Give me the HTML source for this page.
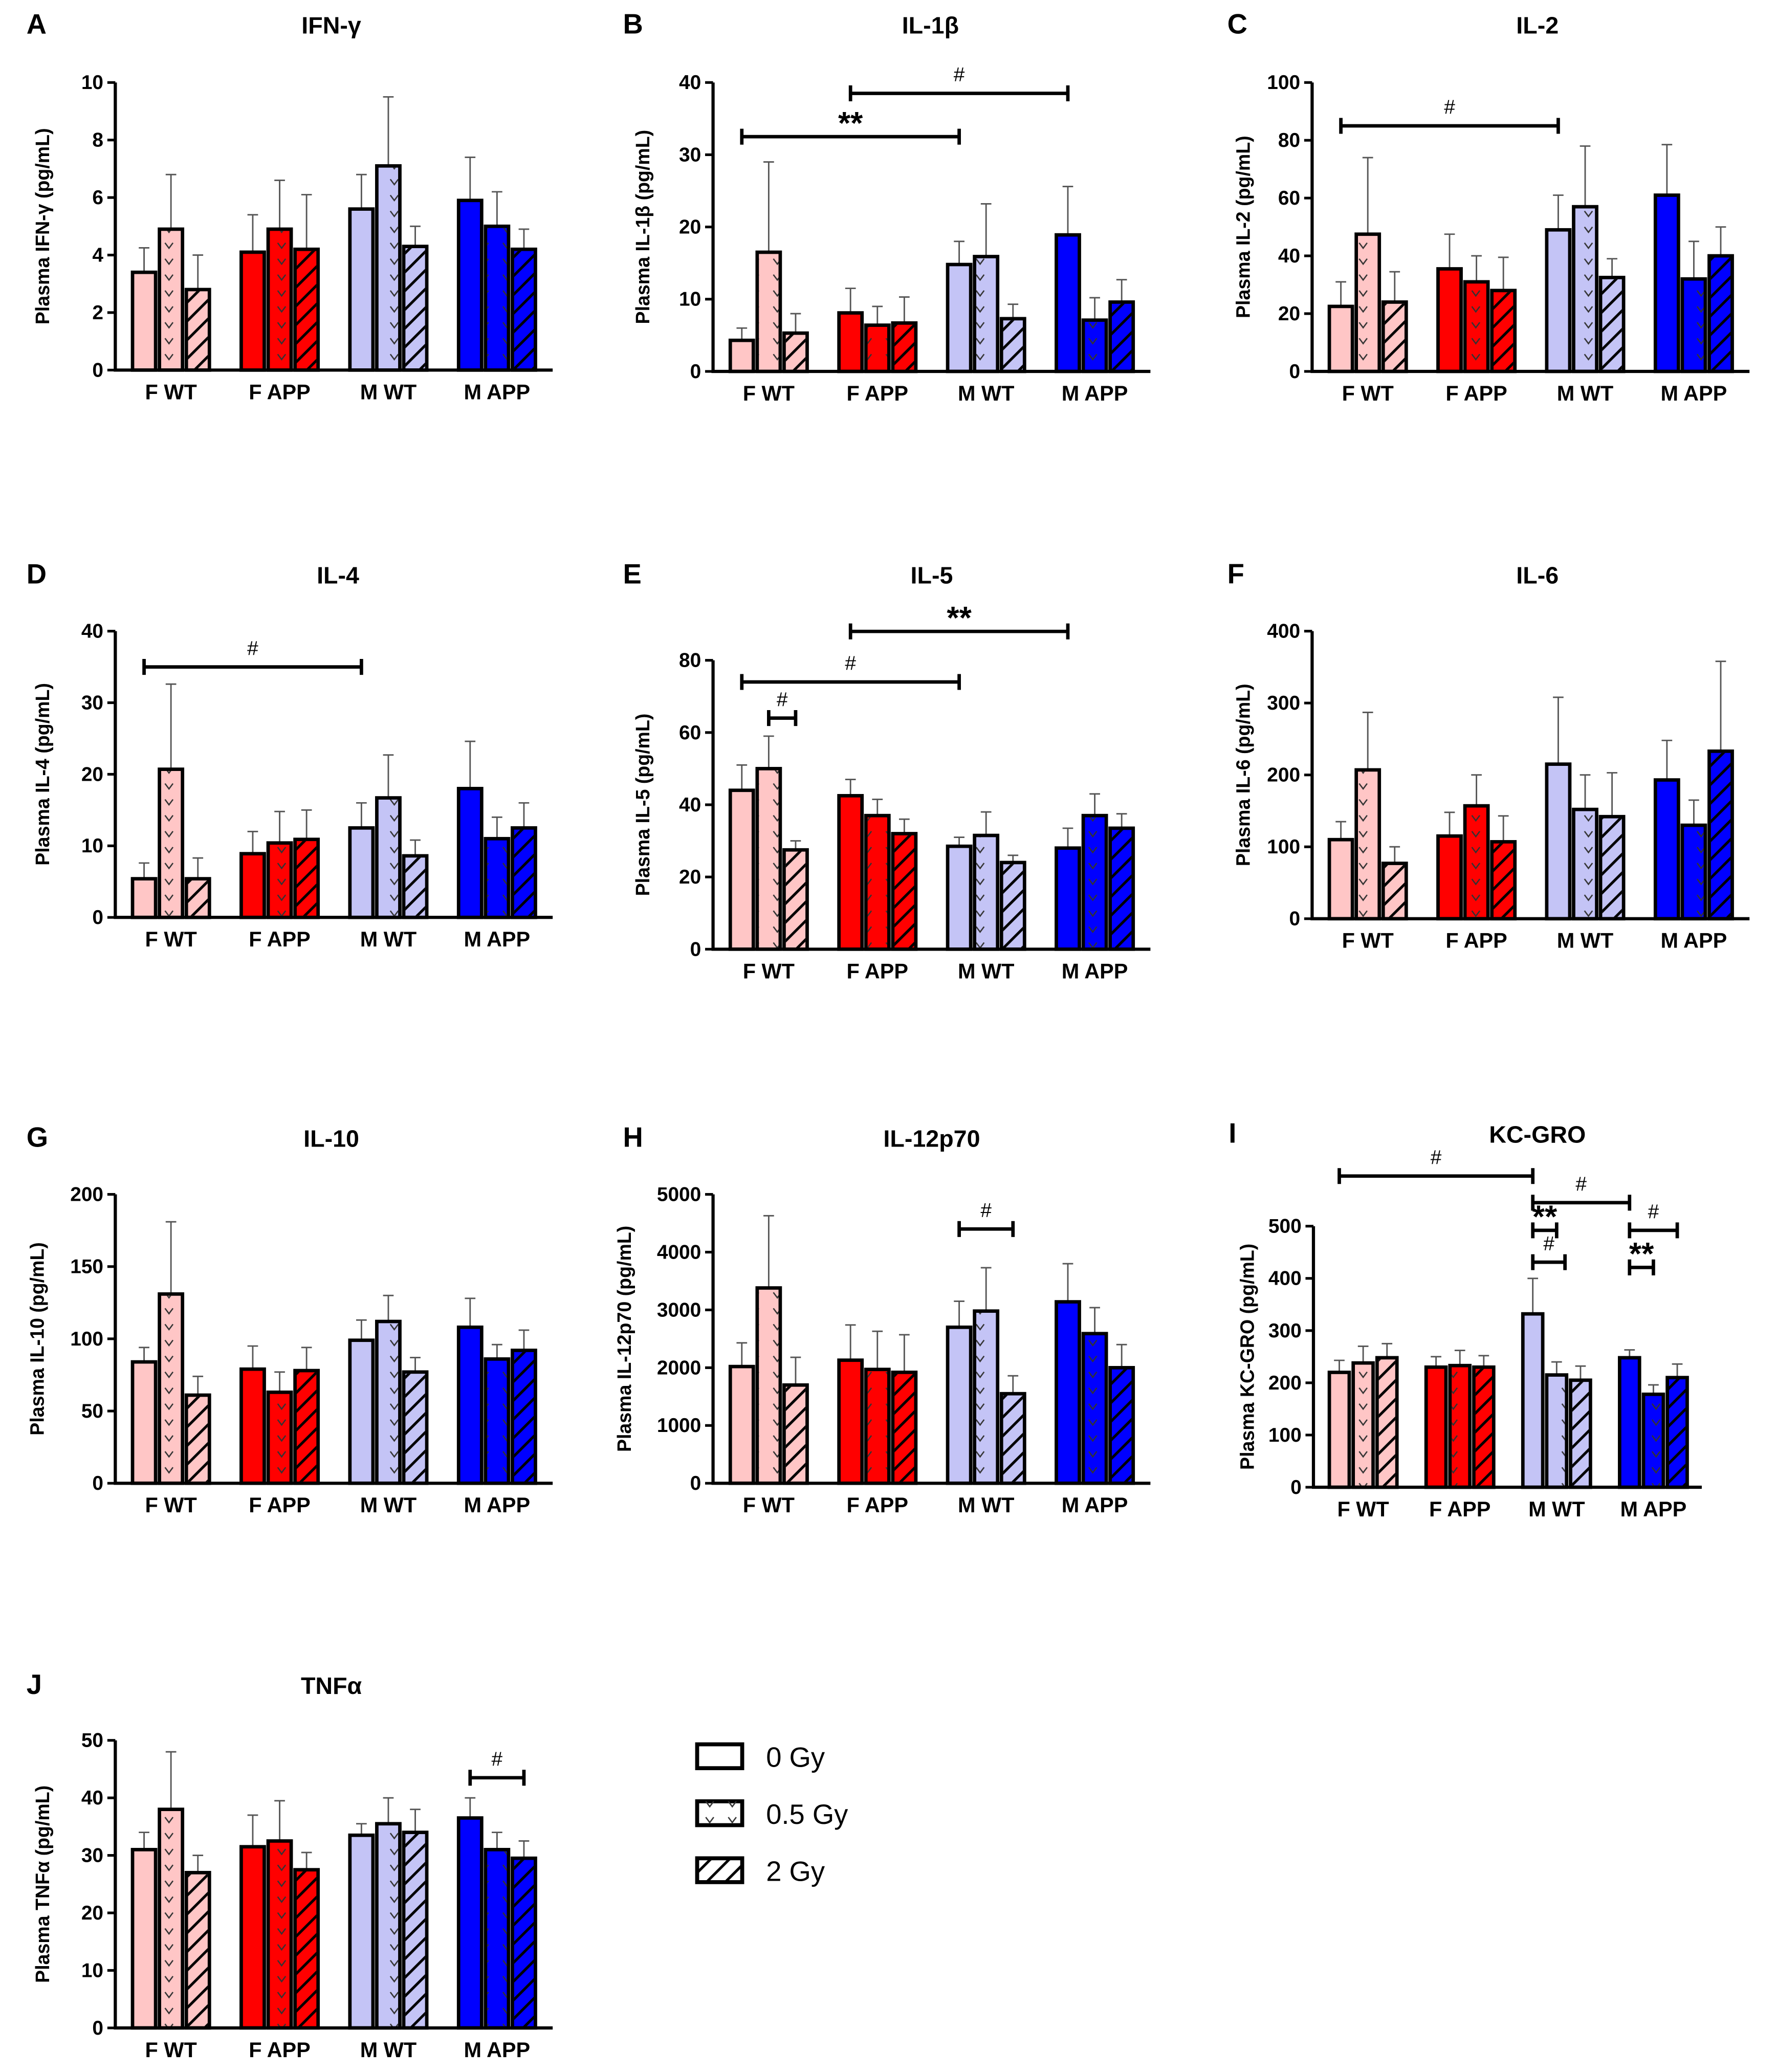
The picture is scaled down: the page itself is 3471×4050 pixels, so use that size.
<!DOCTYPE html>
<html><head><meta charset="utf-8"><style>
html,body{margin:0;padding:0;background:#fff;}
svg{display:block;}
text{font-family:"Liberation Sans",Arial,sans-serif;}
</style></head><body>
<svg id="fig" xmlns="http://www.w3.org/2000/svg" width="3471" height="4050" viewBox="0 0 1340 1563">
<defs>
<pattern id="hatch" patternUnits="userSpaceOnUse" width="10" height="10" patternTransform="rotate(45)">
  <line x1="0" y1="0" x2="0" y2="10" stroke="#000" stroke-width="4"/>
</pattern>
<pattern id="vee" patternUnits="userSpaceOnUse" width="17" height="12">
  <path d="M5.5 3 L8.5 7 L11.5 3" fill="none" stroke="#333" stroke-width="1"/>
</pattern>
</defs>
<g id="plots"></g>
<g>
  <rect x="526" y="1316" width="34" height="18" fill="#fff" stroke="#000" stroke-width="3"/>
  <text x="578" y="1333" font-size="21">0 Gy</text>
  <rect x="526" y="1359" width="34" height="18" fill="#fff" stroke="#000" stroke-width="3"/>
  <rect x="526" y="1359" width="34" height="18" fill="url(#vee)"/>
  <text x="578" y="1376" font-size="21">0.5 Gy</text>
  <rect x="526" y="1402" width="34" height="18" fill="#fff" stroke="#000" stroke-width="3"/>
  <rect x="526" y="1402" width="34" height="18" fill="url(#hatch)"/>
  <text x="578" y="1419" font-size="21">2 Gy</text>
</g>
</svg>
<script>
const categories = ["F WT","F APP","M WT","M APP"];
const doses = ["0 Gy","0.5 Gy","2 Gy"];
const ifnVals = [3.4,4.9,2.8, 4.1,4.9,4.2, 5.6,7.1,4.3, 5.9,5.0,4.2];
const ifnErr  = [4.25,6.8,4.0, 5.4,6.6,6.1, 6.8,9.5,5.0, 7.4,6.2,4.9];
const il1Vals = [4.3,16.5,5.3, 8.1,6.4,6.7, 14.8,15.9,7.3, 18.9,7.1,9.6];
const il1Err  = [6,29,8, 11.5,9,10.3, 18,23.2,9.3, 25.6,10.2,12.7];
const il2Vals = [22.5,47.5,24, 35.5,31,28, 49,57,32.5, 61,32,40];
const il2Err  = [31,74,34.5, 47.5,40,39.5, 61,78,39, 78.5,45,50];
const il4Vals = [5.4,20.7,5.4, 8.9,10.4,10.9, 12.5,16.7,8.6, 18,11,12.5];
const il4Err  = [7.6,32.6,8.3, 12,14.8,15, 16,22.7,10.8, 24.6,14,16];
const il5Vals = [44,50,27.5, 42.5,37,32, 28.5,31.5,24, 28,37,33.5];
const il5Err  = [51,59,30, 47,41.5,36, 31,38,26, 33.5,43,37.5];
const il6Vals = [110,207,77, 115,157,107, 215,152,142, 193,130,233];
const il6Err  = [135,287,100, 148,200,143, 308,200,203, 248,165,358];
const il10Vals = [84,131,61, 79,63,78, 99,112,77, 108,86,92];
const il10Err  = [94,181,74, 95,77,94, 113,130,87, 128,96,106];
const il12Vals = [2020,3380,1700, 2130,1970,1920, 2700,2980,1550, 3140,2590,2000];
const il12Err  = [2430,4630,2180, 2740,2630,2570, 3150,3730,1860, 3800,3040,2400];
const kcVals = [220,238,248, 230,233,230, 332,215,205, 248,178,210];
const kcErr  = [243,270,275, 250,262,252, 400,240,232, 263,196,236];
const tnfVals = [31,38,27, 31.5,32.5,27.5, 33.5,35.5,34, 36.5,31,29.5];
const tnfErr  = [34,48,30, 37,39.5,30.5, 35.5,40,38, 40,34,32.5];
const ifnTicks=[0,2,4,6,8,10], il1Ticks=[0,10,20,30,40], il2Ticks=[0,20,40,60,80,100],
      il4Ticks=[0,10,20,30,40], il5Ticks=[0,20,40,60,80], il6Ticks=[0,100,200,300,400],
      il10Ticks=[0,50,100,150,200], il12Ticks=[0,1000,2000,3000,4000,5000],
      kcTicks=[0,100,200,300,400,500], tnfTicks=[0,10,20,30,40,50];
const il1Brackets=[[0,6,32.5,"**"],[3,9,38.5,"#"]];
const il2Brackets=[[0,6,85,"#"]];
const il4Brackets=[[0,6,35,"#"]];
const il5Brackets=[[1,2,64,"#"],[0,6,74,"#"],[3,9,88,"**"]];
const il12Brackets=[[6,8,4400,"#"]];
const kcBrackets=[[0,6,596,"#"],[6,9,545,"#"],[6,7,492,"**"],[6,7.35,431,"#"],[9,11,492,"#"],[9,10,421,"**"]];
const tnfBrackets=[[9,11,43.5,"#"]];

const colors=["#ffc6c6","#ff0000","#c4c4f6","#0000ff"];
const NS="http://www.w3.org/2000/svg";
const root=document.getElementById('plots');
function mk(tag,attrs,parent){const e=document.createElementNS(NS,tag);for(const k in attrs)e.setAttribute(k,attrs[k]);parent.appendChild(e);return e;}

const panels=[
 {key:"ifn",letter:"A",lx:20,title:"IFN-γ",tx:250,ty:25,x0:87,yT:62,yB:279,vals:ifnVals,err:ifnErr,ticks:ifnTicks,ylab:"Plasma IFN-γ (pg/mL)",ylx:37,br:[]},
 {key:"il1b",letter:"B",lx:470,title:"IL-1β",tx:702,ty:25,x0:538,yT:62,yB:280,vals:il1Vals,err:il1Err,ticks:il1Ticks,ylab:"Plasma IL-1β (pg/mL)",ylx:490,br:il1Brackets},
 {key:"il2",letter:"C",lx:926,title:"IL-2",tx:1160,ty:25,x0:990,yT:62,yB:280,vals:il2Vals,err:il2Err,ticks:il2Ticks,ylab:"Plasma IL-2 (pg/mL)",ylx:943,br:il2Brackets},
 {key:"il4",letter:"D",lx:20,title:"IL-4",tx:255,ty:440,x0:87,yT:476,yB:692,vals:il4Vals,err:il4Err,ticks:il4Ticks,ylab:"Plasma IL-4 (pg/mL)",ylx:37,br:il4Brackets},
 {key:"il5",letter:"E",lx:470,title:"IL-5",tx:703,ty:440,x0:538,yT:498,yB:716,vals:il5Vals,err:il5Err,ticks:il5Ticks,ylab:"Plasma IL-5 (pg/mL)",ylx:490,br:il5Brackets},
 {key:"il6",letter:"F",lx:926,title:"IL-6",tx:1160,ty:440,x0:990,yT:476,yB:693,vals:il6Vals,err:il6Err,ticks:il6Ticks,ylab:"Plasma IL-6 (pg/mL)",ylx:943,br:[]},
 {key:"il10",letter:"G",lx:20,title:"IL-10",tx:250,ty:865,x0:87,yT:901,yB:1119,vals:il10Vals,err:il10Err,ticks:il10Ticks,ylab:"Plasma IL-10 (pg/mL)",ylx:33,br:[]},
 {key:"il12",letter:"H",lx:470,title:"IL-12p70",tx:703,ty:865,x0:538,yT:901,yB:1119,vals:il12Vals,err:il12Err,ticks:il12Ticks,ylab:"Plasma IL-12p70 (pg/mL)",ylx:476,br:il12Brackets},
 {key:"kc",letter:"I",lx:927,title:"KC-GRO",tx:1160,ty:862,x0:991,yT:925,yB:1122,vals:kcVals,err:kcErr,ticks:kcTicks,ylab:"Plasma KC-GRO (pg/mL)",ylx:946,br:kcBrackets,narrow:true},
 {key:"tnf",letter:"J",lx:20,title:"TNFα",tx:250,ty:1278,x0:87,yT:1313,yB:1530,vals:tnfVals,err:tnfErr,ticks:tnfTicks,ylab:"Plasma TNFα (pg/mL)",ylx:37,br:tnfBrackets}
];

panels.forEach(p=>{
  const g=mk('g',{},root);
  
  
  const maxV=p.ticks[p.ticks.length-1];
  const y=v=>p.yB-(v/maxV)*(p.yB-p.yT);
  const off=p.narrow?12:13, bw=p.narrow?15:17.4, bp=p.narrow?18:20.3, gp=p.narrow?73:82, axLen=p.narrow?293:330;
  const xBar=i=>p.x0+off+Math.floor(i/3)*gp+(i%3)*bp;
  const xc=i=>xBar(i)+bw/2;
  const L=mk('text',{x:p.lx,y:p.ty,'font-size':21,'font-weight':'bold'},g);L.textContent=p.letter;
  
  
  const T=mk('text',{x:p.tx,y:p.ty,'font-size':18,'font-weight':'bold','text-anchor':'middle'},g);T.textContent=p.title;
  
  
  const yl=mk('text',{transform:`translate(${p.ylx},${(p.yT+p.yB)/2}) rotate(-90)`,'font-size':14.5,'font-weight':'bold','text-anchor':'middle'},g);yl.textContent=p.ylab;
  
  
  p.vals.forEach((v,i)=>{
    const c=colors[Math.floor(i/3)], d=i%3;
    const xb=xBar(i), yt=y(v), h=p.yB-yt;
    const el=mk('line',{x1:xc(i),x2:xc(i),y1:yt,y2:y(p.err[i]),stroke:'#555','stroke-width':1.1},g);
    
    
    const cap=mk('line',{x1:xc(i)-4,x2:xc(i)+4,y1:y(p.err[i]),y2:y(p.err[i]),stroke:'#555','stroke-width':1.1},g);
    
    
    const r=mk('rect',{x:xb,y:yt,width:bw,height:h,fill:c,stroke:'#000','stroke-width':2.6},g);
    
    
    if(d>0){const o=mk('rect',{x:xb+1.3,y:yt+1.3,width:bw-2.6,height:Math.max(0,h-2.6),fill:d===1?'url(#vee)':'url(#hatch)'},g);
      
      }
  });
  const ax=mk('path',{d:`M${p.x0} ${p.yT} V${p.yB} H${p.x0+axLen}`,fill:'none',stroke:'#000','stroke-width':2.4},g);
  
  
  p.ticks.forEach(t=>{
    const tk=mk('line',{x1:p.x0-6,x2:p.x0,y1:y(t),y2:y(t),stroke:'#000','stroke-width':2},g);
    
    
    const tl=mk('text',{x:p.x0-9,y:y(t)+5,'font-size':15,'font-weight':'bold','text-anchor':'end'},g);tl.textContent=t;
    
    
  });
  categories.forEach((c,k)=>{
    const cl=mk('text',{x:xc(k*3+1),y:p.yB+22,'font-size':16,'font-weight':'bold','text-anchor':'middle'},g);cl.textContent=c;
    
    
  });
  p.br.forEach(b=>{
    const xa=xc(Math.floor(b[0]))+(b[0]%1)*bp, xbb=xc(Math.floor(b[1]))+(b[1]%1)*bp, yy=y(b[2]);
    const bl=mk('path',{d:`M${xa} ${yy-6} V${yy+6} M${xa} ${yy} H${xbb} M${xbb} ${yy-6} V${yy+6}`,fill:'none',stroke:'#000','stroke-width':2.6},g);
    
    
    const isStar=b[3]==="**";
    const bt=mk('text',{x:(xa+xbb)/2,y:isStar?yy-2:yy-9,'font-size':isStar?24:15,'font-weight':isStar?'bold':'normal','text-anchor':'middle'},g);bt.textContent=b[3];
    
    
  });
});
</script>
</body></html>
